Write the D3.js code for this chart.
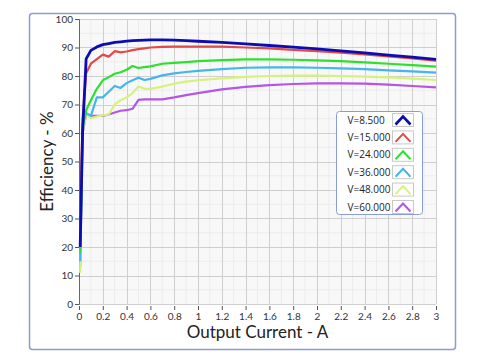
<!DOCTYPE html>
<html>
<head>
<meta charset="utf-8">
<script src="https://cdn.jsdelivr.net/npm/d3@7"></script>
<style>
  html, body { margin: 0; padding: 0; background: #fff; }
  svg { display: block; font-family: "Open Sans", "Noto Sans", sans-serif; }
</style>
</head>
<body>
<div id="chart"></div>
<script>
/* Efficiency vs output current — one line per input voltage */

const current = [0.01, 0.03, 0.06, 0.1, 0.15, 0.2, 0.25, 0.3, 0.35, 0.4, 0.45, 0.5, 0.55, 0.6,
                 0.7, 0.8, 0.9, 1.0, 1.2, 1.4, 1.6, 1.8, 2.0, 2.2, 2.4, 2.6, 2.8, 3.0];

const eff8v5 = [20, 60, 86, 89, 90.2, 91, 91.4, 91.8, 92, 92.2, 92.4, 92.5, 92.6, 92.7,
                92.7, 92.6, 92.4, 92.2, 91.8, 91.3, 90.7, 90.1, 89.5, 88.8, 88.1, 87.3, 86.6, 85.8];
const eff15 = [28, 65, 81, 84.3, 85.9, 87.5, 86.8, 88.7, 88.3, 88.6, 89.1, 89.4, 89.7, 90,
               90.2, 90.3, 90.3, 90.3, 90.3, 90, 89.7, 89.2, 88.7, 88.2, 87.6, 86.9, 86.2, 85.4];
const eff24 = [18, 62, 68, 71.5, 75.5, 78.5, 79.6, 80.8, 81.3, 82.2, 83.5, 82.8, 83.1, 83.4,
               84.3, 84.6, 84.9, 85.2, 85.6, 85.8, 85.8, 85.7, 85.5, 85.2, 84.8, 84.3, 83.8, 83.3];
const eff36 = [15, 63, 67, 66, 72.5, 72.5, 74.5, 76.5, 75.8, 77.5, 78.5, 79.4, 78.6, 79,
               80.2, 80.9, 81.4, 81.8, 82.4, 82.9, 83, 83, 82.9, 82.7, 82.4, 82, 81.6, 81.2];
const eff48 = [11, 60, 66.5, 65.2, 65.8, 66.2, 66.5, 70, 71.5, 72.5, 74, 76.3, 75.5, 75.5,
               76.3, 77.3, 78, 78.5, 79.2, 79.7, 80, 80.1, 80.1, 80, 79.8, 79.5, 79.1, 78.6];
const eff60 = [13, 60, 66.5, 66, 66, 66, 66.5, 67.2, 67.8, 68, 68.5, 71.6, 71.8, 71.8,
               71.8, 72.5, 73.3, 74, 75.3, 76.2, 76.8, 77.2, 77.4, 77.4, 77.3, 77, 76.5, 76];

const seriesNames  = ["V=8.500", "V=15.000", "V=24.000", "V=36.000", "V=48.000", "V=60.000"];
const seriesValues = [eff8v5, eff15, eff24, eff36, eff48, eff60];
const seriesColors = ["#0c0cb0", "#e24a4a", "#2ee02e", "#44b6ee", "#d6f27a", "#b455e4"];

const xTicks = d3.range(0, 3.01, 0.2);
const yTicks = d3.range(0, 101, 10);

const width = 481, height = 363;
const plot = { left: 79, right: 436, top: 19, bottom: 304 };

const svg = d3.select("#chart").append("svg")
  .attr("width", width).attr("height", height);

// outer frame
svg.append("rect")
  .attr("x", 29.5).attr("y", 13.5).attr("width", 426).attr("height", 336)
  .attr("rx", 3).attr("fill", "#fff")
  .attr("stroke", "#8b9bd8").attr("stroke-width", 1.5);

const x = d3.scaleLinear().domain([0, 3]).range([plot.left, plot.right]);
const y = d3.scaleLinear().domain([0, 100]).range([plot.bottom, plot.top]);

svg.append("rect")
  .attr("x", plot.left).attr("y", plot.top)
  .attr("width", plot.right - plot.left).attr("height", plot.bottom - plot.top)
  .attr("fill", "#f8f8f8");

// minor grid
const grid = svg.append("g");
grid.selectAll(".vx").data(d3.range(0.1, 3, 0.2)).join("line")
  .attr("x1", d => x(d)).attr("x2", d => x(d))
  .attr("y1", plot.top).attr("y2", plot.bottom)
  .attr("stroke", "#ececec");
grid.selectAll(".hy").data(d3.range(5, 100, 10)).join("line")
  .attr("y1", d => y(d)).attr("y2", d => y(d))
  .attr("x1", plot.left).attr("x2", plot.right)
  .attr("stroke", "#ececec");

// major grid
grid.selectAll(".gx").data(xTicks.slice(1)).join("line")
  .attr("x1", d => Math.round(x(d)) + 0.5).attr("x2", d => Math.round(x(d)) + 0.5)
  .attr("y1", plot.top).attr("y2", plot.bottom)
  .attr("stroke", "#cfcfcf");
grid.selectAll(".gy").data(yTicks).join("line")
  .attr("y1", d => Math.round(y(d)) + 0.5).attr("y2", d => Math.round(y(d)) + 0.5)
  .attr("x1", plot.left).attr("x2", plot.right)
  .attr("stroke", "#cfcfcf");

// axes
const xAxis = svg.append("g")
  .attr("transform", `translate(0,${plot.bottom + 2})`)
  .call(d3.axisBottom(x).tickValues(xTicks).tickSize(4).tickPadding(3)
    .tickFormat(d => d3.format("~g")(+d.toFixed(1))));
xAxis.select(".domain").remove();

const yAxis = svg.append("g")
  .attr("transform", `translate(${plot.left},0)`)
  .call(d3.axisLeft(y).tickValues(yTicks).tickSize(4).tickPadding(2));
yAxis.select(".domain").attr("stroke", "#666");

[xAxis, yAxis].forEach(a => {
  a.selectAll(".tick line").attr("stroke", "#555");
  a.selectAll(".tick text").attr("fill", "#333")
    .style("font-family", "Lato, sans-serif").style("font-size", "10px");
});

// lines
const line = d3.line()
  .x((d, i) => x(current[i]))
  .y(d => y(d));

svg.append("g").selectAll("path")
  .data(seriesValues.map((v, i) => ({ v, i })).reverse())
  .join("path")
  .attr("d", d => line(d.v))
  .attr("fill", "none")
  .attr("stroke", d => seriesColors[d.i])
  .attr("stroke-width", d => d.i === 0 ? 2.8 : 2.2)
  .attr("stroke-linejoin", "round");

// axis titles
svg.append("text")
  .attr("x", (plot.left + plot.right) / 2).attr("y", 338)
  .attr("text-anchor", "middle")
  .attr("fill", "#222").style("font-family", "Lato, sans-serif").style("font-size", "17px")
  .text("Output Current - A");

svg.append("text")
  .attr("transform", `translate(53,${(plot.top + plot.bottom) / 2}) rotate(-90)`)
  .attr("text-anchor", "middle")
  .attr("fill", "#222").style("font-family", "Lato, sans-serif").style("font-size", "17px")
  .text("Efficiency - %");

// legend
const legend = svg.append("g").attr("transform", "translate(336.5,111.5)");
legend.append("rect")
  .attr("width", 86).attr("height", 103).attr("rx", 3)
  .attr("fill", "#fff").attr("stroke", "#8b9bd8");

const rowH = 17.4;
const item = legend.selectAll(".item").data(seriesNames).join("g")
  .attr("transform", (d, i) => `translate(0,${8 + i * rowH})`);

item.append("text")
  .attr("x", 11).attr("y", 4)
  .attr("fill", "#222").style("font-size", "10px")
  .text(d => d);

item.append("rect")
  .attr("x", 56).attr("y", -6).attr("width", 21).attr("height", 13)
  .attr("fill", "#fff").attr("stroke", "#c8c8c8");

item.append("path")
  .attr("d", "M59,5 L66.5,-3 L74,5")
  .attr("fill", "none")
  .attr("stroke", (d, i) => seriesColors[i])
  .attr("stroke-width", (d, i) => i === 0 ? 2.6 : 2);
</script>
</body>
</html>
